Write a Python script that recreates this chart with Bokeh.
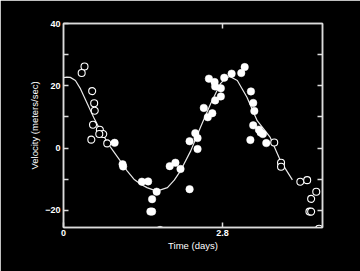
from bokeh.plotting import figure
from bokeh.models import Range1d, LinearAxis, FixedTicker
from bokeh.embed import file_html
from bokeh.resources import INLINE

# Filled circles (time in days, velocity m/s)
filled_t = [0.90, 1.04, 1.05, 1.38, 1.49, 1.64, 1.56, 1.53, 1.56, 1.70, 1.87, 1.97, 2.06,
            2.22, 2.22, 2.36, 2.32, 2.36, 2.47, 2.54, 2.62, 2.56, 2.66, 2.67, 2.67, 2.77,
            2.77, 2.83, 2.96, 3.13, 3.19, 3.30, 3.34, 3.36, 3.34, 3.44, 3.47, 3.51, 3.29, 3.57]
filled_v = [1.7, -5.2, -5.9, -10.8, -10.7, -14.0, -16.4, -20.4, -20.4, -26.3, -5.8, -4.7, -6.7,
            -13.2, 2.2, -0.3, 4.8, 3.2, 12.9, 9.9, 11.2, 22.3, 21.2, 19.8, 15.3, 19.2,
            16.6, 22.6, 23.9, 24.1, 26.0, 18.2, 14.5, 11.9, 7.3, 5.9, 5.0, 4.5, 2.6, 1.6]

# Open circles
open_t = [0.37, 0.32, 0.505, 0.54, 0.55, 0.52, 0.64, 0.70, 0.63, 0.49, 0.77,
          3.71, 3.83, 3.83, 4.17, 4.29, 4.45, 4.36, 4.33, 4.36, 4.50]
open_v = [26.2, 24.1, 18.3, 14.4, 12.0, 7.5, 5.9, 4.5, 4.5, 2.7, 1.5,
          1.8, -4.7, -6.0, -10.8, -10.3, -14.0, -16.3, -20.4, -20.4, -25.9]

# Fitted curve
curve_t = [0.0, 0.06, 0.12, 0.21, 0.30, 0.42, 0.53, 0.65, 0.83, 1.00, 1.12, 1.24, 1.36,
           1.47, 1.64, 1.83, 1.95, 2.06, 2.24, 2.41, 2.59, 2.76, 2.85, 2.93, 3.06, 3.23,
           3.41, 3.64, 3.82, 4.03]
curve_v = [22.6, 22.8, 22.7, 21.7, 19.0, 14.2, 9.9, 5.6, 0.2, -4.1, -7.3, -10.0, -11.6,
           -12.7, -13.8, -12.7, -10.3, -7.3, -0.9, 6.6, 14.2, 20.6, 22.4, 23.0, 21.7, 16.3,
           8.8, 3.4, -4.1, -10.2]

x_ticks = [0, 2.8]
y_ticks = [-20, 0, 20, 40]
y_minor = [-10, 10, 30]
y_all = [-20, -10, 0, 10, 20, 30]

fg = "#dcdcdc"

p = figure(width=360, height=271, output_backend="svg", toolbar_location=None,
           x_range=Range1d(0, 4.56), y_range=Range1d(-25.5, 40),
           min_border_left=63, min_border_right=38, min_border_top=23, min_border_bottom=44,
           background_fill_color="black", border_fill_color="black")
p.grid.visible = False
p.outline_line_color = fg
p.outline_line_width = 1.5

def style(ax):
    ax.axis_line_color = fg
    ax.axis_line_width = 1.5
    for k in ("major", "minor"):
        setattr(ax, k + "_tick_line_color", fg)
        setattr(ax, k + "_tick_line_width", 1.5)
        setattr(ax, k + "_tick_in", 5)
        setattr(ax, k + "_tick_out", 0)
    ax.major_label_text_color = "white"
    ax.major_label_text_font = "Liberation Sans"
    ax.major_label_text_font_size = "9px"
    ax.major_label_text_font_style = "bold"
    ax.axis_label_text_color = "white"
    ax.axis_label_text_font = "Liberation Sans"
    ax.axis_label_text_font_size = "9.5px"
    ax.axis_label_text_font_style = "normal"

xa = p.xaxis[0]
xa.ticker = FixedTicker(ticks=x_ticks)
xa.major_label_overrides = {2.8: "2.8", 0: "0"}
xa.axis_label = "Time (days)"
xa.axis_label_standoff = 1
xa.major_label_standoff = 2
style(xa)

ya = p.yaxis[0]
ya.ticker = FixedTicker(ticks=y_ticks, minor_ticks=y_minor)
ya.axis_label = "Velocity (meters/sec)"
ya.axis_label_standoff = 2
ya.major_label_standoff = 3
style(ya)

ra = LinearAxis(ticker=FixedTicker(ticks=[], minor_ticks=y_all))
style(ra)
p.add_layout(ra, "right")
ta = LinearAxis(ticker=FixedTicker(ticks=[], minor_ticks=[2.8]))
style(ta)
p.add_layout(ta, "above")

p.line(curve_t, curve_v, line_color="#e8e8e8", line_width=1.2)
p.scatter(open_t, open_v, size=7, fill_color="black", line_color="white", line_width=1.1)
p.scatter(filled_t, filled_v, size=7.5, fill_color="white", line_color="white", line_width=0.5)

open("out.html", "w").write(file_html(p, INLINE))
